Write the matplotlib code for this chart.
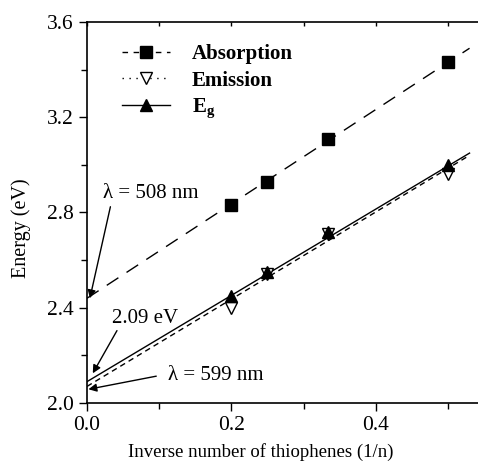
import numpy as np
import matplotlib.pyplot as plt
from matplotlib.lines import Line2D

plt.rcParams['font.family'] = ['Liberation Serif', 'DejaVu Serif']
plt.rcParams['mathtext.fontset'] = 'custom'
plt.rcParams['mathtext.rm'] = 'Liberation Serif'
plt.rcParams['mathtext.bf'] = 'Liberation Serif:bold'

# data: inverse number of thiophenes (1/n)
inv_n = [0.2, 0.25, 1/3, 0.5]
absorption = [2.83, 2.93, 3.11, 3.43]
emission = [2.40, 2.54, 2.71, 2.96]
eg = [2.45, 2.55, 2.72, 3.00]

# linear fits: intercept, slope (eV)
fit_abs = [2.44, 1.98]
fit_em = [2.07, 1.83]
fit_eg = [2.09, 1.81]
fit_x = [0.0, 0.53]

fig = plt.figure(figsize=(4.78, 4.66), dpi=100)
ax = fig.add_axes([0.182, 0.135, 0.906, 0.818])

def fit_line(p):
    xs = np.array(fit_x)
    return xs, p[0] + p[1] * xs

x, y = fit_line(fit_abs)
ax.plot(x, y, color='black', lw=1.0, linestyle=(0, (10, 7)))
x, y = fit_line(fit_em)
ax.plot(x, y, color='black', lw=1.0, linestyle=(0, (4, 3)))
x, y = fit_line(fit_eg)
ax.plot(x, y, color='black', lw=1.0, linestyle='-')

ax.plot(inv_n, absorption, 's', color='black', ms=8.5, ls='none')
ax.plot(inv_n, emission, 'v', mfc='white', mec='black', ms=9, ls='none', mew=1.0)
ax.plot(inv_n, eg, '^', color='black', ms=9, ls='none')

ax.set_xlim(0, 0.6)
ax.set_ylim(2.0, 3.6)
ax.set_xticks([0.0, 0.2, 0.4])
ax.set_xticks([0.1, 0.3, 0.5], minor=True)
ax.set_yticks([2.0, 2.4, 2.8, 3.2, 3.6])
ax.set_yticks([2.2, 2.6, 3.0, 3.4], minor=True)
ax.set_xticklabels(['0.0', '0.2', '0.4'])
ax.set_yticklabels(['2.0', '2.4', '2.8', '3.2', '3.6'])
ax.tick_params(which='major', direction='out', length=6, width=1.0, labelsize=15.5)
ax.tick_params(which='minor', direction='out', length=4, width=1.0)
ax.xaxis.set_tick_params(which='both', top=True)
for t in ax.xaxis.get_major_ticks() + ax.xaxis.get_minor_ticks():
    t.tick2line.set_marker(3)
    t.tick2line.set_markersize(3)
for s in ax.spines.values():
    s.set_linewidth(1.2)

ax.set_xlabel('Inverse number of thiophenes (1/n)', fontsize=13.5, va='center')
ax.xaxis.set_label_coords(0.402, -0.129)
ax.set_ylabel('Energy (eV)', fontsize=14.5, va='center')
ax.yaxis.set_label_coords(-0.153, 0.46)

handles = [
    Line2D([], [], color='black', lw=1.0, linestyle=(0, (4, 4)), marker='s', ms=8.5),
    Line2D([], [], color='black', lw=1.0, linestyle=(0, (1, 4)), marker='v', mfc='white', mec='black', ms=9),
    Line2D([], [], color='black', lw=1.0, linestyle='-', marker='^', ms=9),
]
labels = ['Absorption', 'Emission', r'$\mathbf{E_g}$']
leg = ax.legend(handles, labels, loc='upper left', bbox_to_anchor=(0.037, 0.99),
                frameon=False, handlelength=2.3, handletextpad=1.05, labelspacing=0.3,
                prop={'weight': 'bold', 'size': 15})

arrow = dict(arrowstyle='-|>', color='black', lw=1.0, mutation_scale=12,
             shrinkA=0, shrinkB=0)
ax.annotate('λ = 508 nm', xy=(0.004, 2.44), xytext=(0.088, 2.88),
            fontsize=15, ha='center', va='center',
            arrowprops=dict(arrow, relpos=(0.08, -0.2)))
ax.annotate('2.09 eV', xy=(0.008, 2.125), xytext=(0.080, 2.356),
            fontsize=15, ha='center', va='center',
            arrowprops=dict(arrow, relpos=(0.08, -0.15)))
ax.annotate('λ = 599 nm', xy=(0.002, 2.058), xytext=(0.178, 2.117),
            fontsize=15, ha='center', va='center',
            arrowprops=dict(arrow, relpos=(-0.12, 0.45)))

fig.savefig('out.png', dpi=100)
